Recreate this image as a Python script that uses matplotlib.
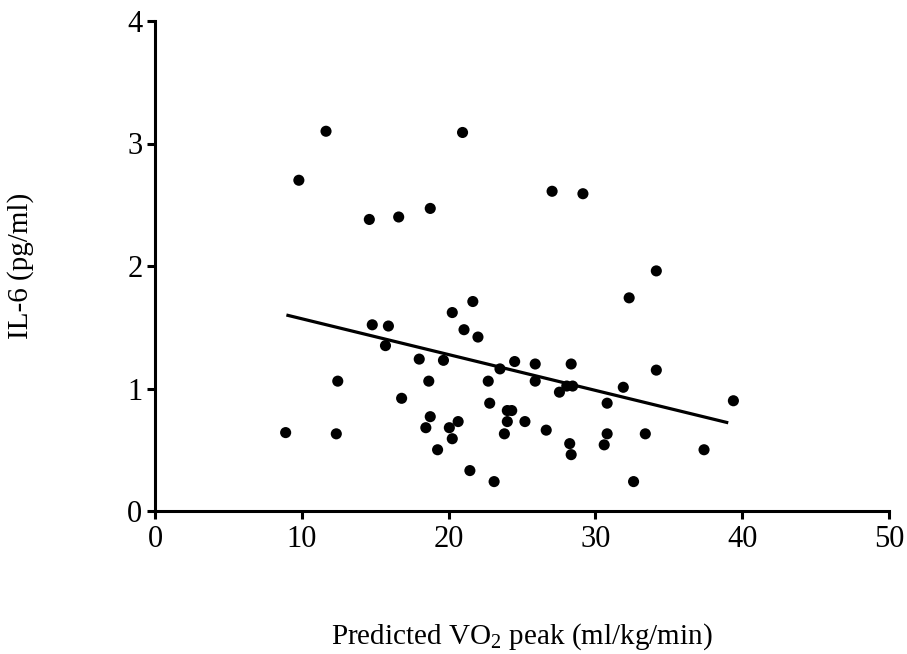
import matplotlib
matplotlib.use("Agg")
import matplotlib.pyplot as plt

plt.rcParams['font.family'] = ['Liberation Serif', 'DejaVu Serif']
plt.rcParams['mathtext.default'] = 'regular'

vo2_peak = [8.9, 9.8, 11.65, 12.45, 12.35, 14.6, 14.8, 15.9, 15.7, 16.6,
            16.8, 18.0, 18.75, 18.65, 18.75, 18.45, 19.25, 19.65, 20.25, 20.05,
            20.65, 20.25, 20.95, 21.05, 21.65, 22.0, 21.45, 22.7, 22.8, 23.1,
            23.5, 24.5, 24.0, 24.3, 24.0, 25.2, 23.8, 25.9, 25.9, 26.65,
            27.05, 27.55, 28.05, 28.45, 28.35, 28.25, 28.35, 29.15, 30.8, 30.8,
            30.6, 31.9, 32.3, 32.6, 33.4, 34.15, 34.15, 37.4, 39.4]
il6 = [0.64, 2.70, 3.10, 1.06, 0.63, 2.38, 1.52, 1.51, 1.35, 2.40,
       0.92, 1.24, 2.47, 1.06, 0.77, 0.68, 0.50, 1.23, 1.62, 0.68,
       0.73, 0.59, 3.09, 1.48, 1.71, 1.42, 0.33, 1.06, 0.88, 0.24,
       1.16, 1.22, 0.82, 0.82, 0.73, 0.73, 0.63, 1.20, 1.06, 0.66,
       2.61, 0.97, 1.02, 1.02, 1.20, 0.55, 0.46, 2.59, 0.88, 0.63,
       0.54, 1.01, 1.74, 0.24, 0.63, 1.96, 1.15, 0.50, 0.90]

fit_x = [8.95, 39.05]
fit_y = [1.60, 0.72]

x_ticks = [0, 10, 20, 30, 40, 50]
y_ticks = [0, 1, 2, 3, 4]

fig = plt.figure(figsize=(9.07, 6.54), dpi=100)
ax = fig.add_axes([155/907, 1 - 511/654, (889-155)/907, (511-21)/654])

ax.scatter(vo2_peak, il6, s=64, color='black', edgecolors='none', zorder=3, clip_on=False)
ax.plot(fit_x, fit_y, color='black', lw=2.3, solid_capstyle='butt', zorder=2)

ax.set_xlim(0, 50)
ax.set_ylim(0, 4)
ax.set_xticks(x_ticks)
ax.set_yticks(y_ticks)

for side in ['top', 'right']:
    ax.spines[side].set_visible(False)
for side in ['left', 'bottom']:
    ax.spines[side].set_linewidth(2.2)

ax.tick_params(axis='both', direction='out', length=6, width=2.2, labelsize=22)
ax.tick_params(axis='x', pad=4)
ax.tick_params(axis='y', pad=3)

ax.set_xlabel('Predicted VO$_2$ peak (ml/kg/min)', fontsize=21)
ax.xaxis.set_label_coords(0.5, -0.225)
ax.set_ylabel('IL-6 (pg/ml)', fontsize=21)
ax.yaxis.set_label_coords(-0.165, 0.5)

fig.savefig('out.png', dpi=100)
